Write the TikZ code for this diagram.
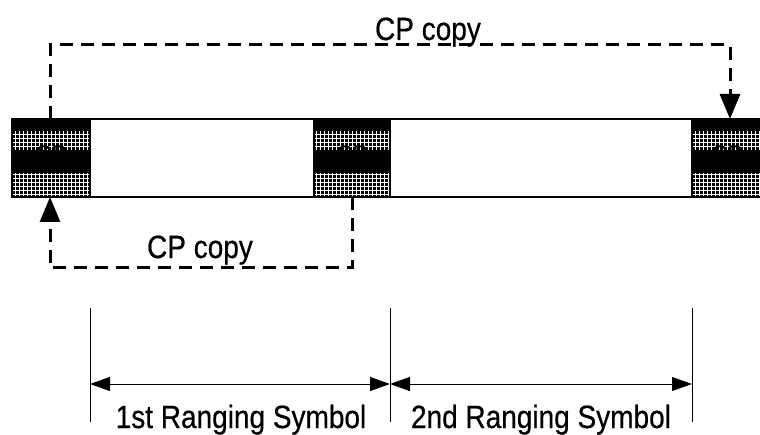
\documentclass[tikz,border=0pt]{standalone}
\usepackage{fontspec}
\setmainfont{Liberation Sans}
\newfontfamily\lblfont[FakeBold=0.6]{Liberation Sans}
\usetikzlibrary{arrows.meta,calc}
\newcommand{\tallt}[1]{\scalebox{1}[1.15]{#1}}
\begin{document}
\begin{tikzpicture}[x=1pt,y=-1pt,
  lbl/.style={font=\lblfont\fontsize{28}{32}\selectfont, inner sep=0pt, anchor=base},
  symbox/.style={draw, line width=2pt, minimum height=78pt, inner sep=0pt, outer sep=0pt, anchor=north west, fill=white},
  cpbox/.style={symbox, font=\lblfont\fontsize{22}{24}\selectfont,
    path picture={
      \fill[black] (path picture bounding box.north west) rectangle (path picture bounding box.south east);
      \draw[white, line width=1.5pt, xstep=4pt, ystep=4pt]
        ($(path picture bounding box.north west)+(0,12)$) grid ($(path picture bounding box.north east)+(0,31)$);
      \draw[white, line width=1.5pt, xstep=4pt, ystep=4pt]
        ($(path picture bounding box.north west)+(0,54)$) grid ($(path picture bounding box.north east)+(0,77)$);
      \foreach \k in {0,...,34} {
        \fill[white] (26+22*\k,122) rectangle ++(2,2);
        \fill[white] (26+22*\k,162) rectangle ++(2,2);
      }
    }},
  cpdash/.style={line width=3pt, dash pattern=on 13pt off 8pt, -{Triangle[length=25pt,width=20pt]}},
  dimline/.style={line width=0.8pt},
  dimarrow/.style={line width=1pt, {Triangle[length=20pt,width=14pt]}-{Triangle[length=20pt,width=14pt]}}
]
\useasboundingbox (0,0) rectangle (760,435);

% strip
\node[cpbox, minimum width=78pt] (cp1) at (12,119) {\raisebox{10pt}{CP}};
\node[symbox, minimum width=224pt] (sym1) at (cp1.north east) {};
\node[cpbox, minimum width=76pt] (cp2) at (sym1.north east) {\raisebox{10pt}{CP}};
\node[symbox, minimum width=302pt] (sym2) at (cp2.north east) {};
\node[cpbox, minimum width=70pt] (cp3) at (sym2.north east) {\raisebox{10pt}{CP}};

% top CP copy
\coordinate (t1) at (50,45);
\coordinate (t2) at (730,45);
\draw[cpdash] (t1 |- cp1.north) -- (t1) -- (t2) -- (t2 |- cp3.north);
\node[lbl] (c1) at (428,40) {\tallt{CP copy}};

% lower CP copy
\coordinate (b2) at (50,268);
\draw[cpdash] (cp2.south) |- (b2) -- (b2 |- cp1.south);
\node[lbl] (c2) at (200,258) {\tallt{CP copy}};

% dimension lines
\coordinate (vt) at (0,308);
\coordinate (vb) at (0,422);
\coordinate (ylev) at (0,384);
\draw[dimline] (cp1.east |- vt) -- (cp1.east |- vb);
\draw[dimline] (cp2.east |- vt) -- (cp2.east |- vb);
\draw[dimline] (cp3.west |- vt) -- (cp3.west |- vb);
\draw[dimarrow] (cp1.east |- ylev) -- (cp2.east |- ylev);
\draw[dimarrow] (cp2.east |- ylev) -- (cp3.west |- ylev);

\node[lbl] (l1) at (241,428) {\tallt{1st Ranging Symbol}};
\node[lbl] (l2) at (541,428) {\tallt{2nd Ranging Symbol}};
\end{tikzpicture}
\end{document}
